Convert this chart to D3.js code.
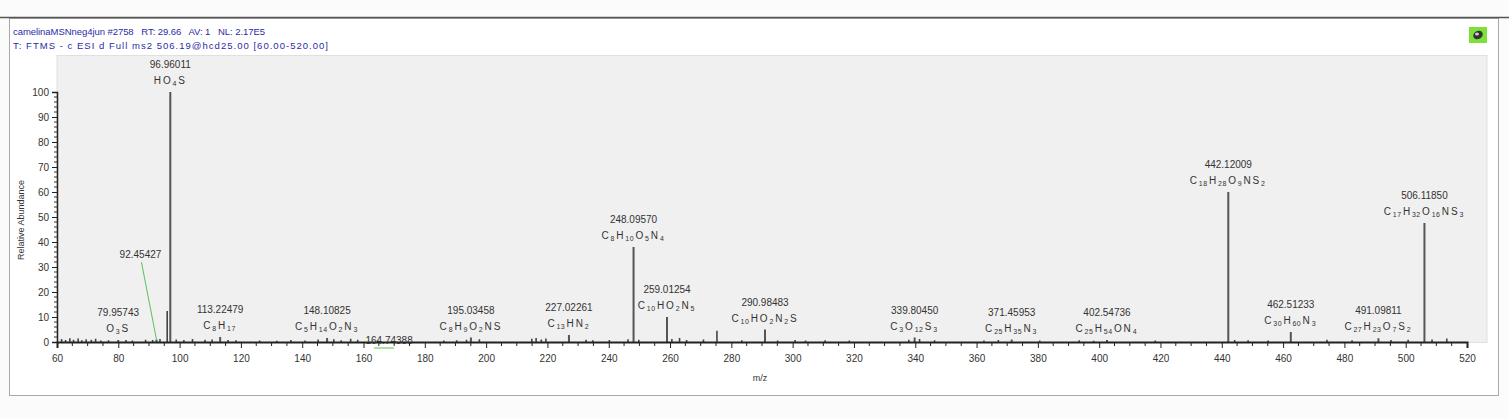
<!DOCTYPE html>
<html><head><meta charset="utf-8">
<script src="https://cdn.jsdelivr.net/npm/d3@7"></script>
<style>
html,body{margin:0;padding:0;background:#fff;}
svg{display:block;font-family:"Liberation Sans",Arial,sans-serif;}
</style></head>
<body>
<svg id="c" width="1509" height="419"></svg>
<script>
// ---- data ----
const headerLines = [
  "camelinaMSNneg4jun #2758   RT: 29.66   AV: 1   NL: 2.17E5",
  "T: FTMS - c ESI d Full ms2 506.19@hcd25.00 [60.00-520.00]"
];
const xTicks = [60,80,100,120,140,160,180,200,220,240,260,280,300,320,340,360,380,400,420,440,460,480,500,520];
const yTicks = [0,10,20,30,40,50,60,70,80,90,100];
const labeledMz = [79.95743, 92.45427, 96.96011, 113.22479, 148.10825, 164.74388, 195.03458, 227.02261, 248.09570, 259.01254, 290.98483, 339.80450, 371.45953, 402.54736, 442.12009, 462.51233, 491.09811, 506.11850];
const labeledInt = [0.8, 1.0, 100, 2.0, 1.6, 0.6, 1.8, 2.8, 38, 10, 5, 1.8, 1.0, 0.8, 60, 4, 1.5, 47.6];
const formulas = ["O3S", "", "HO4S", "C8H17", "C5H14O2N3", "", "C8H9O2NS", "C13HN2", "C8H10O5N4", "C10HO2N5", "C10HO2N2S", "C3O12S3", "C25H35N3", "C25H54ON4", "C18H28O9NS2", "C30H60N3", "C27H23O7S2", "C17H32O16NS3"];
const minorMz = [61.5,62.8,64.2,65.4,66.9,68.1,69.5,71.2,72.6,74.3,76.8,82.5,84.6,88.9,91.2,93.6,95.95,98.9,101.4,104.2,108.3,110.6,115.8,118.4,126.1,131.7,136.3,140.9,145.2,150.3,152.7,155.8,158.1,186.2,190.4,193.6,197.8,214.9,216.3,218.0,219.5,232.6,234.8,240.2,246.3,249.8,260.6,263.1,265.4,270.9,275.3,283.4,295.1,300.8,304.2,310.6,318.5,337.9,341.4,346.3,362.4,367.1,380.6,393.5,398.2,418.3,444.2,448.6,455.1,474.3,482.5,495.2,500.8,508.6,513.4];
const minorInt = [1.2,0.8,1.5,0.9,1.4,0.7,1.1,0.9,1.3,0.6,0.7,0.8,0.6,0.9,0.8,1.2,12.4,1.0,0.8,1.2,0.9,1.0,0.8,0.7,0.6,0.5,0.8,0.6,1.0,1.1,0.7,1.3,0.9,0.6,0.7,0.9,1.1,1.3,1.6,1.0,1.4,0.9,0.7,0.8,1.1,0.9,1.2,1.6,0.8,1.0,4.5,0.7,0.6,0.8,0.6,0.7,0.6,0.9,1.2,0.7,0.6,0.8,0.6,0.7,0.5,0.6,0.8,0.7,0.6,0.9,0.7,0.8,0.9,1.0,1.4];

// ---- layout ----
const svg = d3.select("#c");
const x = d3.scaleLinear().domain([60,520]).range([57,1467]);
const y = d3.scaleLinear().domain([0,100]).range([342,92]);

// window frame
svg.append("rect").attr("x",0).attr("y",0).attr("width",1509).attr("height",419).attr("fill","#fbfbfb");
svg.append("rect").attr("x",9.5).attr("y",18.5).attr("width",1489).attr("height",377).attr("fill","#fff").attr("stroke","#a8a8a8");
svg.append("line").attr("x1",0).attr("x2",1509).attr("y1",17.5).attr("y2",17.5).attr("stroke","#555").attr("stroke-width",1.5);

// header
const hdrLen = [252, 315];
svg.selectAll("text.hdr").data(headerLines).join("text")
  .attr("class","hdr").attr("x",13).attr("y",(d,i)=>35+i*14)
  .attr("xml:space","preserve").style("white-space","pre")
  .attr("textLength",(d,i)=>hdrLen[i]).attr("lengthAdjust","spacing")
  .attr("font-size",9.5).attr("fill","#2b2ba8").text(d=>d);

// icon
svg.append("rect").attr("x",1469).attr("y",27).attr("width",18).attr("height",16).attr("fill","#7ee03a");
svg.append("ellipse").attr("cx",1478).attr("cy",35).attr("rx",5).attr("ry",4).attr("fill","#333").attr("transform","rotate(-30,1478,35)");
svg.append("ellipse").attr("cx",1477).attr("cy",34).attr("rx",2).attr("ry",1.5).attr("fill","#ccc");

// plot panel
svg.append("rect").attr("x",57).attr("y",55.5).attr("width",1430).attr("height",287).attr("fill","#f0f0f0").attr("stroke","#e0e0e0");

// minor peaks
svg.selectAll("line.mp").data(minorMz).join("line").attr("class","mp")
  .attr("x1",d=>x(d)).attr("x2",d=>x(d)).attr("y1",y(0)).attr("y2",(d,i)=>y(minorInt[i]))
  .attr("stroke","#444").attr("stroke-width",1.6);

// labeled peaks
svg.selectAll("line.lp").data(labeledMz).join("line").attr("class","lp")
  .attr("x1",d=>x(d)).attr("x2",d=>x(d)).attr("y1",y(0)).attr("y2",(d,i)=>y(labeledInt[i]))
  .attr("stroke","#555").attr("stroke-width",2);

// x axis
const xAxis = d3.axisBottom(x).tickValues(xTicks).tickSize(6).tickPadding(7).tickFormat(d3.format("d"));
const gx = svg.append("g").attr("transform",`translate(0,${y(0)})`).call(xAxis);
const xMinor = d3.range(60,521,5).filter(v=>v%20!==0);
gx.selectAll("line.minor").data(xMinor).join("line").attr("class","minor")
  .attr("x1",d=>x(d)).attr("x2",d=>x(d)).attr("y1",0).attr("y2",4).attr("stroke","#222");
gx.select(".domain").attr("stroke","#222").attr("stroke-width",2);
gx.selectAll(".tick line").attr("stroke","#222");
gx.selectAll(".tick text").attr("font-size",10).attr("fill","#333").attr("font-family","Liberation Sans, Arial");

// y axis
const yAxis = d3.axisLeft(y).tickValues(yTicks).tickSize(5).tickPadding(3).tickFormat(d3.format("d"));
const gy = svg.append("g").attr("transform",`translate(57,0)`).call(yAxis);
const yMinor = d3.range(0,101,2).filter(v=>v%10!==0);
gy.selectAll("line.minor").data(yMinor).join("line").attr("class","minor")
  .attr("x1",-3).attr("x2",0).attr("y1",d=>y(d)).attr("y2",d=>y(d)).attr("stroke","#333");
gy.select(".domain").attr("stroke","#222").attr("stroke-width",1.5);
gy.selectAll(".tick line").attr("stroke","#222");
gy.selectAll(".tick text").attr("font-size",10).attr("fill","#333").attr("font-family","Liberation Sans, Arial");

// axis titles
svg.append("text").attr("transform","translate(24,220) rotate(-90)").attr("text-anchor","middle")
  .attr("font-size",9).attr("fill","#333").text("Relative Abundance");
svg.append("text").attr("x",760).attr("y",381).attr("text-anchor","middle")
  .attr("font-size",9).attr("fill","#333").text("m/z");

// formula renderer with subscripts
function addFormula(t, f){
  const parts = f.match(/[A-Z][a-z]?|\d+/g) || [];
  parts.forEach(p=>{
    if(/\d/.test(p)){
      t.append("tspan").attr("font-size",7).attr("dy",2).text(p);
      t.append("tspan").attr("font-size",10).attr("dy",-2).text("\u200A");
    } else {
      t.append("tspan").attr("font-size",10).text(p+"\u200A");
    }
  });
}

// peak labels
labeledMz.forEach((mz,i)=>{
  const px = x(mz), top = y(labeledInt[i]);
  const mzTxt = mz.toFixed(5);
  if(mz===92.45427){
    const lx = px-16, ly = y(33.5);
    svg.append("text").attr("x",lx).attr("y",ly).attr("text-anchor","middle").attr("font-size",10).attr("fill","#333").text(mzTxt);
    svg.append("line").attr("x1",lx+1).attr("y1",ly+4).attr("x2",px).attr("y2",top).attr("stroke","#5cc05c").attr("stroke-width",1);
    return;
  }
  if(mz===164.74388){
    const lx = px+11, ly = y(-0.6);
    svg.append("line").attr("x1",px-4).attr("x2",px+16).attr("y1",ly+4.5).attr("y2",ly+4.5).attr("stroke","#5cc05c").attr("stroke-width",1);
    svg.append("text").attr("x",lx).attr("y",ly).attr("text-anchor","middle").attr("font-size",10).attr("fill","#333").text(mzTxt);
    return;
  }
  svg.append("text").attr("x",px).attr("y",top-24).attr("text-anchor","middle").attr("font-size",10).attr("fill","#333").text(mzTxt);
  const ft = svg.append("text").attr("x",px).attr("y",top-8).attr("text-anchor","middle").attr("fill","#333").attr("letter-spacing",0.5);
  addFormula(ft, formulas[i]);
});
</script>
</body></html>
